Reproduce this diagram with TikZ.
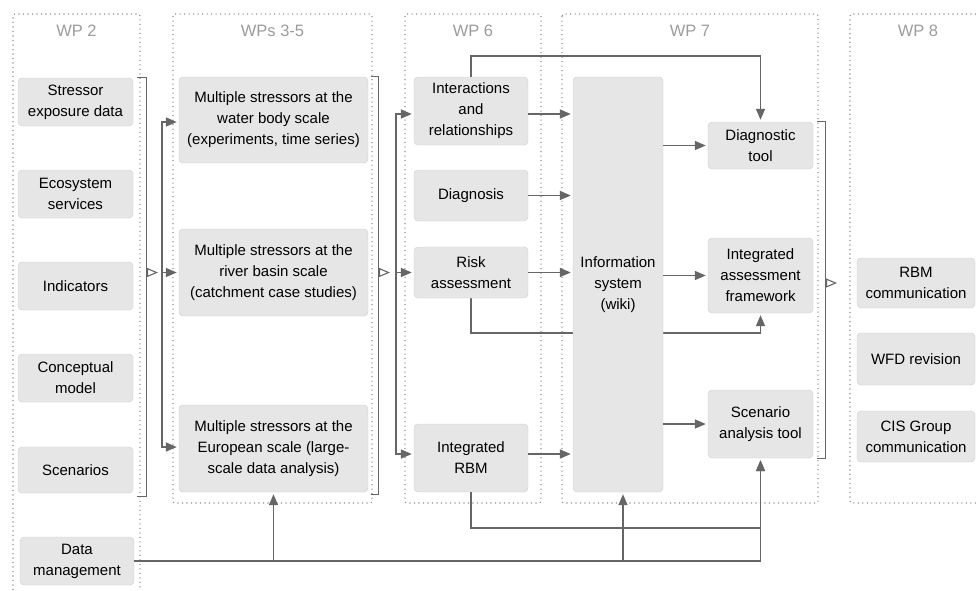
\documentclass[tikz,border=0pt]{standalone}
\usepackage{fontspec}
\setmainfont{Liberation Sans}
\usetikzlibrary{positioning,arrows.meta,backgrounds}
\definecolor{boxfill}{HTML}{E6E6E6}
\definecolor{boxline}{HTML}{CDCDCD}
\definecolor{linegray}{HTML}{666666}
\definecolor{wpgray}{HTML}{9C9C9C}
\definecolor{dotgray}{HTML}{8E8E8E}

\begin{document}
\begin{tikzpicture}[x=1pt,y=1pt,yscale=-1,xscale=1,
        box/.style={draw=boxline, fill=boxfill, rounded corners=4pt, align=center, inner sep=1pt, font=\fontsize{15}{21}\selectfont},
        wp/.style={draw=dotgray, line width=1.1pt, dash pattern=on 1.1pt off 3.4pt, rounded corners=2pt},
        wptitle/.style={text=wpgray, font=\fontsize{16.5}{20}\selectfont},
        arr/.style={draw=linegray, line width=1.5pt, -{Triangle[length=11pt,width=9pt]}, shorten >=2pt},
        bracketline/.style={draw=linegray, line width=1.2pt},
        hollow/.style={draw=linegray, line width=1.1pt, -{Triangle[open,length=11pt,width=9pt]}}]
            \useasboundingbox (0,0) rectangle (976,590);

            \draw[wp] (13,590) -- (13,14) -- (140,14) -- (140,590);
            \draw[wp] (173,14) rectangle (372,503);
            \draw[wp] (405,14) rectangle (541,503);
            \draw[wp] (562,14) rectangle (818,503);
            \draw[wp] (976,14) -- (850,14) -- (850,503) -- (976,503);

            \node[wptitle] (t2) at (76.5,31) {WP 2};
            \node[wptitle] (t35) at (272.5,31) {WPs 3-5};
            \node[wptitle] (t6) at (473,31) {WP 6};
            \node[wptitle] (t7) at (690,31) {WP 7};
            \node[wptitle] (t8) at (918,31) {WP 8};

            \node[box, minimum width=115, minimum height=48] (stress) at (75.5,102) {Stressor\\exposure data};
            \node[box, minimum width=115, minimum height=48] (ecosys) at (75.5,194) {Ecosystem\\services};
            \node[box, minimum width=115, minimum height=48] (indic) at (75.5,286) {Indicators};
            \node[box, minimum width=115, minimum height=48] (concept) at (75.5,378) {Conceptual\\model};
            \node[box, minimum width=115, minimum height=46] (scen) at (75.5,470) {Scenarios};
            \node[box, minimum width=114, minimum height=48] (datamgmt) at (77,561) {Data\\management};

            \node[box, minimum width=189, minimum height=86] (ms1) at (273.5,120) {Multiple stressors at the\\water body scale\\(experiments, time series)};
            \node[box, minimum width=189, minimum height=87] (ms2) at (273.5,272.5) {Multiple stressors at the\\river basin scale\\(catchment case studies)};
            \node[box, minimum width=189, minimum height=87] (ms3) at (273.5,448.5) {Multiple stressors at the\\European scale (large-\\scale data analysis)};

            \node[box, minimum width=114, minimum height=68] (inter) at (471,111) {Interactions\\and\\relationships};
            \node[box, minimum width=114, minimum height=51] (diagn) at (471,195.5) {Diagnosis};
            \node[box, minimum width=114, minimum height=51] (risk) at (471,272.5) {Risk\\assessment};
            \node[box, minimum width=114, minimum height=68] (irbm) at (471,458) {Integrated\\RBM};

            \node[box, minimum width=90, minimum height=415] (info) at (618,284.5) {Information\\system\\(wiki)};

            \node[box, minimum width=105, minimum height=47] (dtool) at (760.5,145.5) {Diagnostic\\tool};
            \node[box, minimum width=105, minimum height=75] (iaf) at (760.5,275.5) {Integrated\\assessment\\framework};
            \node[box, minimum width=105, minimum height=68] (sat) at (760.5,424) {Scenario\\analysis tool};

            \node[box, minimum width=118, minimum height=50] (rbmc) at (916,283) {RBM\\communication};
            \node[box, minimum width=118, minimum height=52] (wfd) at (916,359) {WFD revision};
            \node[box, minimum width=118, minimum height=51] (cis) at (916,436.5) {CIS Group\\communication};

            \draw[bracketline] ([xshift=4]stress.north east) -- ++(9,0) |- ([xshift=4,yshift=3]scen.south east);
            \coordinate (b2) at (146,272.5);
            \draw[hollow] (b2) -- ++(12,0);
            \coordinate (hub2) at (162,272.5);
            \draw[arr] (hub2) -- (ms2.west);
            \draw[arr] (hub2) |- ([yshift=2]ms1.west);
            \draw[arr] (hub2) |- ([yshift=-1.5]ms3.west);

            \draw[bracketline] ([xshift=3]ms1.north east) -- ++(7,0) |- ([xshift=3,yshift=2]ms3.south east);
            \coordinate (b3) at (378,272.5);
            \draw[hollow] (b3) -- ++(12,0);
            \coordinate (hub3) at (396,272.5);
            \draw[arr] (hub3) -- (risk.west);
            \draw[arr] (hub3) |- ([yshift=3]inter.west);
            \draw[arr] (hub3) |- ([yshift=-4]irbm.west);

            \foreach \s/\d in {inter/3, diagn/0, risk/0, irbm/-4}
                \draw[arr] ([yshift=\d]\s.east) -- ([yshift=\d]\s.east -| info.west);
            \foreach \t in {dtool, iaf, sat}
                \draw[arr] (\t.west -| info.east) -- (\t.west);

            \draw[arr] (inter.north) -- ++(0,-21) -| (dtool.north);
            \begin{scope}[on background layer]
                \draw[arr] (risk.south) -- ++(0,35) -| (iaf.south);
            \end{scope}
            \draw[arr] (irbm.south) -- ++(0,36) -| (sat.south);

            \draw[bracketline] ([xshift=4]dtool.north east) -- ++(8,0) |- ([xshift=4]sat.south east);
            \coordinate (b7) at (825,283);
            \draw[hollow] (b7) -- ++(12,0);

            \draw[arr] (datamgmt.east) -| (sat.south);
            \draw[arr] (datamgmt.east -| ms3.south) -- (ms3.south);
            \draw[arr] ([xshift=5]datamgmt.east -| info.south) -- ([xshift=5]info.south);
        \end{tikzpicture}
\end{document}
